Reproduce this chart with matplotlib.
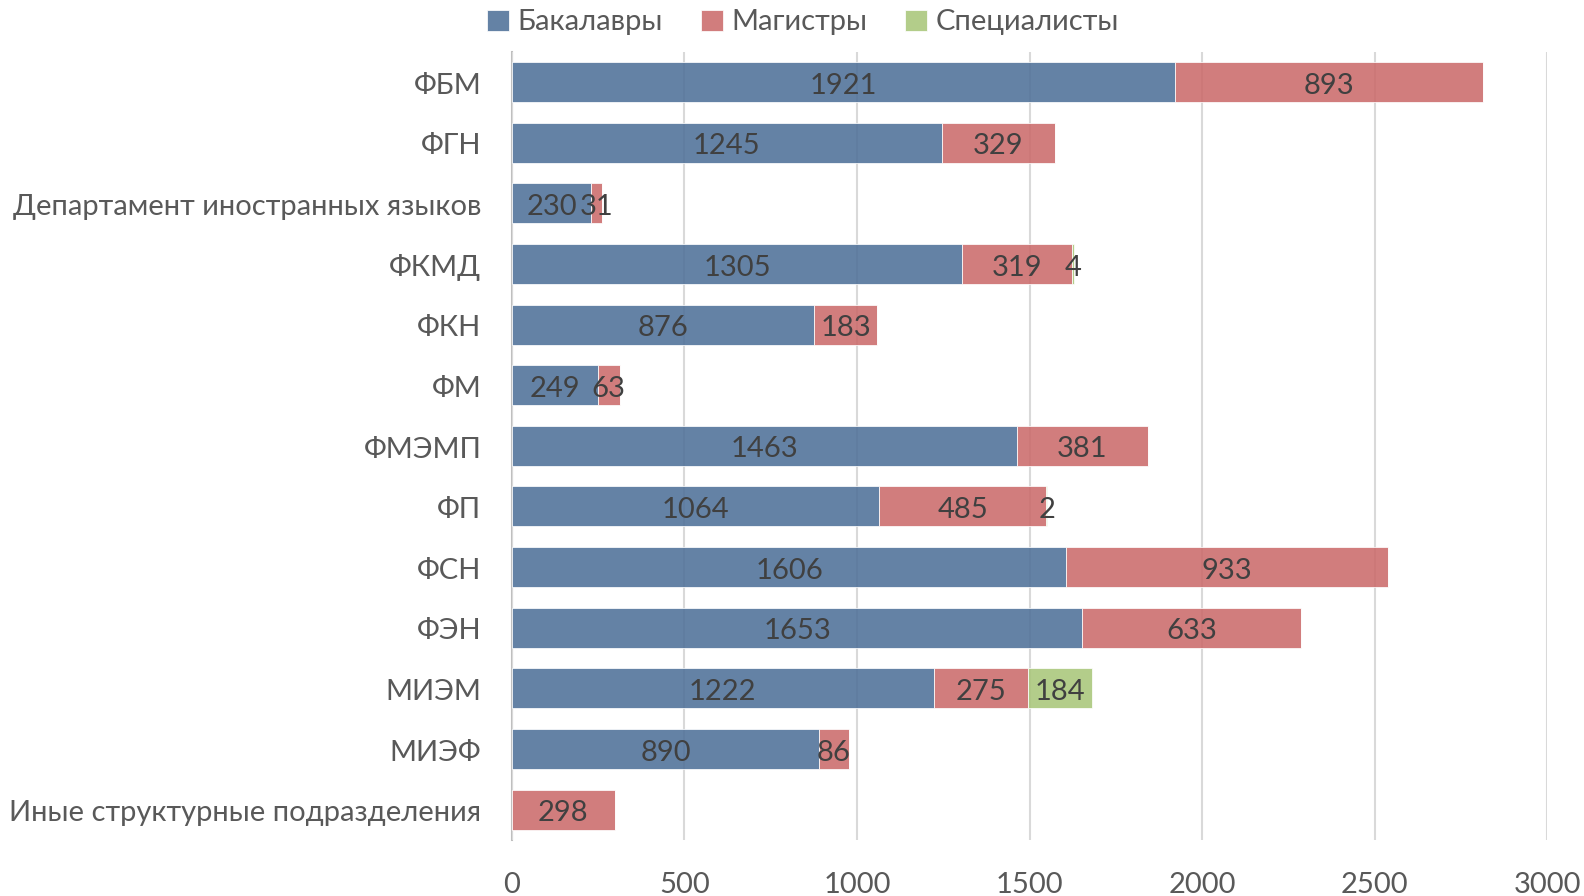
import matplotlib
matplotlib.use("Agg")
import matplotlib.pyplot as plt
import numpy as np

categories = ["ФБМ", "ФГН", "Департамент иностранных языков", "ФКМД", "ФКН", "ФМ",
              "ФМЭМП", "ФП", "ФСН", "ФЭН", "МИЭМ", "МИЭФ", "Иные структурные подразделения"]
bachelors = [1921, 1245, 230, 1305, 876, 249, 1463, 1064, 1606, 1653, 1222, 890, 0]
masters = [893, 329, 31, 319, 183, 63, 381, 485, 933, 633, 275, 86, 298]
specialists = [0, 0, 0, 4, 0, 0, 0, 2, 0, 0, 184, 0, 0]
series_names = ["Бакалавры", "Магистры", "Специалисты"]
xticks = [0, 500, 1000, 1500, 2000, 2500, 3000]

colors = ["#4F7199", "#CB6B6B", "#A9C67A"]
plt.rcParams['font.family'] = ['Lato', 'DejaVu Sans']
FS = 21

fig = plt.figure(figsize=(15.84, 8.96), dpi=100)
ax = fig.add_axes([0.3232, 0.0625, 0.6535, 0.8798])

y = np.arange(len(categories))
left = np.zeros(len(categories))
for name, vals, c in zip(series_names, [bachelors, masters, specialists], colors):
    vals = np.array(vals, dtype=float)
    ax.barh(y, vals, left=left, height=0.66, color=c, alpha=0.88,
            edgecolor="white", linewidth=0.6, label=name, zorder=3)
    for yi, v, l in zip(y, vals, left):
        if v > 0:
            ax.text(l + v / 2, yi + 0.06, f"{int(v)}", ha="center", va="center",
                    fontsize=FS, color="#404040", zorder=5)
    left += vals

ax.set_ylim(len(categories) - 0.5, -0.5)
ax.set_xlim(0, 3000)
ax.set_yticks(y + 0.02)
ax.set_yticklabels(categories, fontsize=FS, color="#595959")
ax.set_xticks(xticks)
ax.set_xticklabels([str(t) for t in xticks], fontsize=FS, color="#595959")
ax.tick_params(axis="both", length=0)
ax.tick_params(axis="y", pad=22)
ax.tick_params(axis="x", pad=23)
ax.xaxis.grid(True, color="#D9D9D9", linewidth=1.5, zorder=4)
ax.set_axisbelow(False)
for s in ["top", "right", "bottom"]:
    ax.spines[s].set_visible(False)
ax.spines["left"].set_color("#BFBFBF")
ax.spines["left"].set_linewidth(1.5)

handles, labels = ax.get_legend_handles_labels()
leg = fig.legend(handles, labels, loc="center", bbox_to_anchor=(0.507, 0.975), ncol=3,
                 frameon=False, fontsize=FS, handlelength=0.75, handleheight=0.75,
                 handletextpad=0.3, columnspacing=1.3)
for t in leg.get_texts():
    t.set_color("#595959")

fig.savefig("out.png", dpi=100)
